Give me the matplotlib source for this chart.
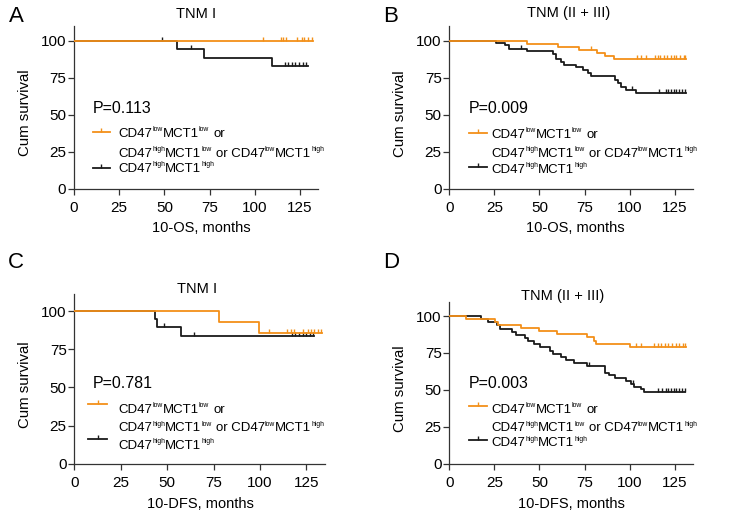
import numpy as np
import matplotlib

matplotlib.use("Agg")
import matplotlib.pyplot as plt
from matplotlib.lines import Line2D
from matplotlib.path import Path

W, H = 745, 515
ORANGE = "#f39019"
BLACK = "#1a1a1a"

plt.rcParams["font.family"] = ["Liberation Sans", "DejaVu Sans"]

# ---- data (months, cumulative survival %) ----
# A: 10-OS, TNM I
a_org_t = [0]
a_org_s = [100]
a_org_end = 132.5
a_org_cens = [104.8, 114.4, 115.6, 117.3, 123.2, 126.0, 127.5, 129.5, 131.5]
a_blk_t = [0, 56.8, 72.1, 109.4]
a_blk_s = [100, 94.2, 88.5, 82.9]
a_blk_end = 129.7
a_blk_cens = [48.9, 65.0, 116.6, 118.5, 120.5, 122.5, 124.5, 126.5, 128.6]
a_p = "P=0.113"

# B: 10-OS, TNM (II + III)
b_org_t = [0, 43.1, 60.1, 71.9, 81.9, 86.3, 91.1]
b_org_s = [100, 97.9, 96.0, 93.8, 91.8, 89.6, 87.5]
b_org_end = 131.5
b_org_cens = [78.4, 104.0, 106.4, 109.2, 114.0, 115.5, 117.0, 119.0, 121.0,
              123.0, 124.5, 126.0, 128.0, 130.0, 131.0]
b_blk_t = [0, 25.8, 30.8, 33.0, 43.1, 57.5, 59.0, 62.2, 63.6, 70.1, 74.1,
           76.9, 78.7, 92.0, 93.5, 95.3, 98.1, 103.3]
b_blk_s = [100, 98.7, 97.0, 94.8, 92.9, 90.8, 87.6, 85.6, 83.8, 82.0, 80.2,
           78.1, 76.0, 73.8, 71.4, 68.9, 66.7, 64.9]
b_blk_end = 131.5
b_blk_cens = [40.0, 101.4, 116.5, 120.0, 121.5, 123.0, 124.5, 126.0, 127.5,
              129.0, 130.5]
b_p = "P=0.009"

# C: 10-DFS, TNM I
c_org_t = [0, 77.8, 99.4]
c_org_s = [100, 92.9, 85.7]
c_org_end = 133.5
c_org_cens = [105.0, 114.5, 116.6, 118.4, 122.9, 125.6, 127.4, 129.2, 131.0, 132.8]
c_blk_t = [0, 43.4, 44.6, 57.6]
c_blk_s = [100, 94.7, 89.5, 83.9]
c_blk_end = 129.2
c_blk_cens = [48.5, 64.6, 117.0, 119.0, 121.0, 123.0, 125.0, 127.0, 128.5]
c_p = "P=0.781"

# D: 10-DFS, TNM (II + III)
d_org_t = [0, 9.0, 25.2, 27.1, 39.6, 49.7, 59.9, 76.3, 80.5, 81.4, 100.2]
d_org_s = [100, 98.0, 96.0, 94.2, 92.1, 89.8, 87.7, 85.9, 83.4, 81.1, 79.3]
d_org_end = 131.2
d_org_cens = [103.5, 106.3, 113.6, 115.5, 117.5, 119.5, 121.5, 123.5, 125.5,
              127.5, 129.5, 131.0]
d_blk_t = [0, 17.5, 21.6, 26.5, 28.0, 34.5, 36.8, 41.8, 43.7, 47.0, 50.3, 55.6,
           57.5, 62.1, 64.8, 69.4, 76.3, 86.6, 88.4, 92.1, 98.0, 100.8, 102.6,
           106.3, 108.1]
d_blk_s = [100, 97.9, 95.7, 93.6, 91.5, 89.4, 87.2, 85.1, 83.0, 80.9, 78.7, 76.6,
           74.5, 72.3, 70.2, 68.0, 65.9, 61.6, 59.9, 58.3, 56.2, 54.0, 52.2,
           50.5, 48.8]
d_blk_end = 130.8
d_blk_cens = [77.4, 101.7, 116.0, 118.0, 120.0, 121.5, 123.0, 124.5, 126.0,
              127.5, 129.0, 130.5]
d_p = "P=0.003"

x_ticks = [0, 25, 50, 75, 100, 125]
y_ticks = [0, 25, 50, 75, 100]

# legend lines: (text, is_superscript)
leg1 = [("CD47", 0), ("low", 1), ("MCT1", 0), ("low", 1), (" or", 0)]
leg2 = [("CD47", 0), ("high", 1), ("MCT1", 0), ("low", 1), (" or CD47", 0),
        ("low", 1), ("MCT1", 0), ("high", 1)]
leg3 = [("CD47", 0), ("high", 1), ("MCT1", 0), ("high", 1)]

CENSOR = Path([(0, 0), (0, 1)], [Path.MOVETO, Path.LINETO])
LEG_SIZE = 9.5
SUP_SIZE = 4.9
SUP_RISE = 5.5


def px(x, y):
    return x / W, 1 - y / H


def draw_km(ax, t, s, end, cens, color, z):
    t = np.asarray(t, float)
    s = np.asarray(s, float)
    ax.step(np.append(t, end), np.append(s, s[-1]), where="post",
            color=color, lw=1.3, zorder=z)
    cens = np.asarray(cens, float)
    idx = np.searchsorted(t, cens, side="right") - 1
    ax.plot(cens, s[idx], ls="none", marker=CENSOR, ms=6, mew=1.0,
            color=color, zorder=z, clip_on=False)


def rich_text(fig, renderer, x, y, pieces):
    # y is the baseline in pixels from the top
    for s, sup in pieces:
        if s.startswith(" "):
            x += 0.278 * LEG_SIZE * 100 / 72
            s = s.lstrip()
        size = SUP_SIZE if sup else LEG_SIZE
        yy = y - SUP_RISE if sup else y
        t = fig.text(*px(x, yy), s, fontsize=size, ha="left", va="baseline")
        x += t.get_window_extent(renderer).width + (0.3 if sup else 0.0)


fig = plt.figure(figsize=(W / 100, H / 100), dpi=100)
renderer = fig.canvas.get_renderer()

panels = [
    dict(rect=(74, 26, 318, 189), ytop=110, letter="A", title="TNM I",
         xlabel="10-OS, months", org=(a_org_t, a_org_s, a_org_end, a_org_cens),
         blk=(a_blk_t, a_blk_s, a_blk_end, a_blk_cens), p=a_p,
         letter_xy=(16, 17), title_xy=(196, 13.5), xl_xy=(201, 228), yl_xy=(25, 113),
         p_xy=(92.7, 113.3), h1=(92.7, 110, 131.7), b1=136.7, b2=156.7,
         h3=(92.7, 110, 168.3), b3=172.0, tx=118.3),
    dict(rect=(449.3, 26, 692.7, 189), ytop=110, letter="B", title="TNM (II + III)",
         xlabel="10-OS, months", org=(b_org_t, b_org_s, b_org_end, b_org_cens),
         blk=(b_blk_t, b_blk_s, b_blk_end, b_blk_cens), p=b_p,
         letter_xy=(391, 17), title_xy=(569, 13.5), xl_xy=(575, 228), yl_xy=(400, 114),
         p_xy=(468.7, 113.3), h1=(468.7, 487, 133.3), b1=137.7, b2=156.7,
         h3=(468.7, 487, 166.7), b3=172.5, tx=491.3),
    dict(rect=(74.3, 294.3, 325, 463.7), ytop=111, letter="C", title="TNM I",
         xlabel="10-DFS, months", org=(c_org_t, c_org_s, c_org_end, c_org_cens),
         blk=(c_blk_t, c_blk_s, c_blk_end, c_blk_cens), p=c_p,
         letter_xy=(16, 262), title_xy=(197, 288.7), xl_xy=(200, 503.7), yl_xy=(25, 385),
         p_xy=(92.7, 387.7), h1=(88.3, 107.3, 403.7), b1=412.7, b2=431.0,
         h3=(88.3, 107.3, 438.7), b3=448.7, tx=118.3),
    dict(rect=(449.3, 302, 692.7, 463.7), ytop=109.5, letter="D", title="TNM (II + III)",
         xlabel="10-DFS, months", org=(d_org_t, d_org_s, d_org_end, d_org_cens),
         blk=(d_blk_t, d_blk_s, d_blk_end, d_blk_cens), p=d_p,
         letter_xy=(391, 262), title_xy=(562.7, 296), xl_xy=(571, 503.7), yl_xy=(400, 388.7),
         p_xy=(468.7, 387.7), h1=(468.7, 487, 406), b1=412.7, b2=431.0,
         h3=(468.7, 487, 440.3), b3=446.3, tx=491.3),
]

for p in panels:
    x0, y0, x1, y1 = p["rect"]
    ax = fig.add_axes([x0 / W, 1 - y1 / H, (x1 - x0) / W, (y1 - y0) / H])
    draw_km(ax, *p["blk"], BLACK, 2)
    draw_km(ax, *p["org"], ORANGE, 3)
    ax.set_xlim(0, 135)
    ax.set_ylim(0, p["ytop"])
    ax.set_xticks(x_ticks)
    ax.set_yticks(y_ticks)
    for side in ("top", "right"):
        ax.spines[side].set_visible(False)
    for side in ("left", "bottom"):
        ax.spines[side].set_linewidth(0.9)
        ax.spines[side].set_color("#333333")
    ax.tick_params(direction="out", length=4, width=0.9, color="#333333",
                   labelsize=11)
    ax.tick_params(axis="x", pad=5)
    ax.tick_params(axis="y", pad=1.5)

    fig.text(*px(*p["letter_xy"]), p["letter"], fontsize=16, ha="center", va="center")
    fig.text(*px(*p["title_xy"]), p["title"], fontsize=10.5, ha="center", va="center")
    fig.text(*px(*p["xl_xy"]), p["xlabel"], fontsize=10.5, ha="center", va="center")
    fig.text(*px(*p["yl_xy"]), "Cum survival", fontsize=10.8, ha="center",
             va="center", rotation=90)
    fig.text(*px(*p["p_xy"]), p["p"], fontsize=11.5, ha="left", va="baseline")

    for (hx0, hx1, hy), col in ((p["h1"], ORANGE), (p["h3"], BLACK)):
        xs = [hx0 / W, (hx0 + hx1) / 2 / W, hx1 / W]
        ys = [1 - hy / H] * 3
        fig.add_artist(Line2D(xs, ys, color=col, lw=1.3, marker=CENSOR, ms=6,
                              mew=1.0, markevery=[1], transform=fig.transFigure))
    rich_text(fig, renderer, p["tx"], p["b1"], leg1)
    rich_text(fig, renderer, p["tx"], p["b2"], leg2)
    rich_text(fig, renderer, p["tx"], p["b3"], leg3)

fig.savefig("out.png", dpi=100)
